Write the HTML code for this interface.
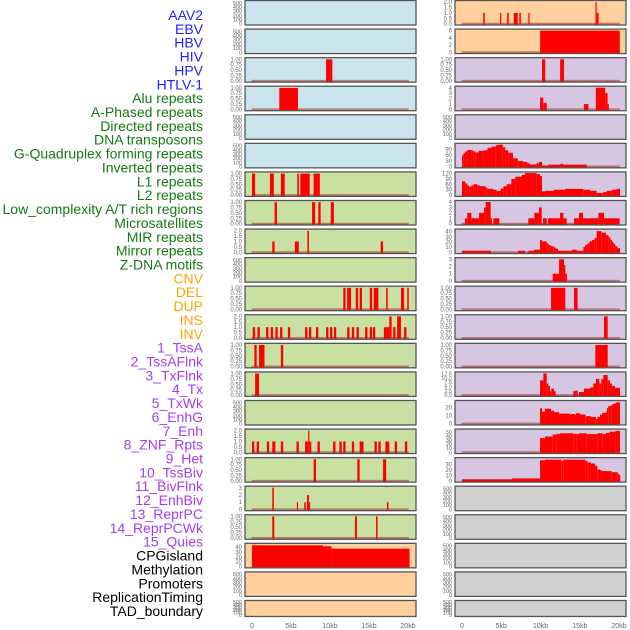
<!DOCTYPE html>
<html><head><meta charset="utf-8"><style>
html,body{margin:0;padding:0;background:#fff;width:630px;height:630px;overflow:hidden}
svg{display:block;font-family:"Liberation Sans",sans-serif}
</style></head><body>
<svg id="chart" width="630" height="630" viewBox="0 0 630 630" xmlns="http://www.w3.org/2000/svg"></svg>
<script>
const featureLabels=["AAV2","EBV","HBV","HIV","HPV","HTLV-1","Alu repeats","A-Phased repeats","Directed repeats","DNA transposons","G-Quadruplex forming repeats","Inverted repeats","L1 repeats","L2 repeats","Low_complexity A/T rich regions","Microsatellites","MIR repeats","Mirror repeats","Z-DNA motifs","CNV","DEL","DUP","INS","INV","1_TssA","2_TssAFlnk","3_TxFlnk","4_Tx","5_TxWk","6_EnhG","7_Enh","8_ZNF_Rpts","9_Het","10_TssBiv","11_BivFlnk","12_EnhBiv","13_ReprPC","14_ReprPCWk","15_Quies","CPGisland","Methylation","Promoters","ReplicationTiming","TAD_boundary"];
const labelGroups=["virus","virus","virus","virus","virus","virus","repeat","repeat","repeat","repeat","repeat","repeat","repeat","repeat","repeat","repeat","repeat","repeat","repeat","sv","sv","sv","sv","sv","state","state","state","state","state","state","state","state","state","state","state","state","state","state","state","other","other","other","other","other"];
const xTickValues=[0,5,10,15,20];
const xTickLabels=["0","5kb","10kb","15kb","20kb"];
const T01=["0.00","0.25","0.50","0.75","1.00"];
const T02=["0.0","0.5","1.0","1.5","2.0"];
const TE=["0","100","200","300","400","500"];
const panelTickLabels=[TE,TE,T01,T01,TE,TE,T01,T01,T02,TE,T01,T02,T01,T01,TE,T02,T01,["0","1","2","3"],T01,["0","10","20","30","40"],TE,TE,
 T02,["0","2","4","6"],T01,["0","1","2","3","4"],TE,["0","30","60","90"],["0","30","60","90","120"],["0","1","2","3","4"],["0","10","20","30","40"],["0","1","2","3"],T01,T01,T01,["0.0","2.5","5.0","7.5","10.0","12.5"],["0","10","20"],["0","10","20","30","40","50"],["0","10","20","30"],TE,TE,TE,TE,TE];
const panelYMax=[530,530,1.03,1.03,530,530,1.03,1.03,2.06,530,1.03,2.06,1.03,1.03,530,2.06,1.03,3.08,1.03,46,530,530,
 2.06,6.15,1.03,4.1,530,116,124,4.1,43,3.1,1.03,1.03,1.03,12.8,27.5,55,41,530,530,530,530,530];
const panelFill=["blue","blue","blue","blue","blue","blue","green","green","green","green","green","green","green","green","green","green","green","green","green","orange","orange","orange",
 "orange","orange","purple","purple","purple","purple","purple","purple","purple","purple","purple","purple","purple","purple","purple","purple","purple","gray","gray","gray","gray","gray"];
const panelBars=[
[],[],
[[9.5,10.3,1]],
[[3.5,5.9,1]],
[],[],
[[0,0.4,1],[2.3,2.8,1],[3.7,4.2,1],[5.8,6.0,1],[6.2,7.4,1],[7.9,8.7,1]],
[[2.9,3.2,1],[7.7,8.1,1],[8.5,8.8,1],[10.1,10.5,1]],
[[2.6,2.9,1],[5.5,6.0,1],[7.1,7.3,2],[16.5,16.8,1]],
[],
[[11.7,12.0,1],[12.2,12.7,1],[13.3,13.6,1],[13.8,14.1,1],[15.1,15.4,1],[15.6,16.2,1],[17.2,17.4,1],[19.1,19.5,1],[19.9,20.1,1]],
[[0.1,0.4,1],[0.7,1.0,1],[1.8,2.1,1],[2.4,2.7,1],[3.0,3.3,1],[3.6,3.9,1],[4.6,4.9,1],[6.8,7.1,1],[7.3,7.6,1],[8.2,8.5,1],[9.5,9.8,1],[10.0,10.3,1],[10.5,10.8,1],[12.2,12.5,1],[12.8,13.1,1],[13.4,13.7,1],[14.5,14.8,1],[15.1,15.4,1],[15.5,15.8,1],[16.9,17.3,1],[17.3,17.6,1],[17.6,17.9,2],[18.1,18.4,1],[18.6,19.1,2],[19.5,19.8,1]],
[[0.3,0.6,1],[0.9,1.6,1],[3.7,4.0,1]],
[[0.4,0.9,1]],
[],
[[0.0,0.3,1],[0.6,0.9,1],[1.9,2.2,1],[2.6,3.0,1],[3.7,4.0,1],[5.7,6.0,1],[6.8,7.2,1],[7.2,7.35,2],[7.35,7.6,1],[8.4,8.7,1],[10.4,10.7,1],[11.2,11.5,1],[11.7,12.0,1],[12.8,13.1,1],[13.8,14.3,1],[15.7,16.0,1],[16.2,16.5,1],[17.1,17.6,1],[18.3,18.6,1],[19.6,19.9,1]],
[[7.9,8.2,1],[13.5,13.8,1],[16.8,17.2,1]],
[[2.6,2.8,3],[5.75,5.9,1],[6.7,6.9,1],[7.05,7.3,2],[7.3,7.45,1],[17.3,17.5,1]],
[[2.6,2.85,1],[13.2,13.45,1],[15.9,16.1,1]],
[[0,9.1,44],[9.1,10.2,42],[10.2,20.2,37]],
[],[],
[[2.7,2.9,1],[4.85,5.0,1],[5.75,5.95,1],[6.6,7.1,1],[7.3,7.5,1],[8.45,8.6,1],[17.0,17.15,2],[17.15,17.4,1]],
[[9.95,20.1,6]],
[[10.2,10.6,1],[12.5,13.0,1]],
[[9.95,10.35,2.2],[10.35,10.8,1.2],[15.55,16.1,1],[17.05,18.25,4],[18.25,18.55,3],[18.55,18.7,1]],
[],
[[0,0.17,58],[0.17,0.4,69],[0.4,0.65,79],[0.65,1.2,87],[1.2,1.45,85],[1.45,1.7,79],[1.7,2.1,74],[2.1,2.75,82],[2.75,3.25,85],[3.25,3.75,98],[3.75,4.25,104],[4.25,4.4,108],[4.4,5.2,114],[5.2,5.5,101],[5.5,5.9,85],[5.9,6.5,72],[6.5,7.1,43],[7.1,7.8,29],[7.8,8.3,24],[8.3,8.6,18],[8.6,9.5,11],[9.5,9.8,18],[9.8,10.2,24],[10.2,11.0,5],[11.0,12.5,10],[12.5,12.9,14],[12.9,15.9,10]],
[[0,0.42,77],[0.42,0.68,66],[0.68,0.93,54],[0.93,1.19,47],[1.19,1.44,54],[1.44,1.95,61],[1.95,2.29,54],[2.29,2.97,50],[2.97,3.23,43],[3.23,3.99,35],[3.99,4.42,30],[4.42,4.93,23],[4.93,5.27,37],[5.27,5.69,50],[5.69,6.28,61],[6.28,6.79,90],[6.79,7.64,103],[7.64,8.03,113],[8.03,9.51,123],[9.51,9.94,117],[9.94,10.19,106],[10.19,10.57,21],[10.57,11.72,24],[11.72,13.12,30],[13.12,15.46,35],[15.46,16.31,30],[16.31,17.16,24],[17.16,18.0,12],[18.0,18.43,17],[18.43,19.07,24],[19.07,19.7,30],[19.7,20.13,35]],
[[0.38,0.68,1],[0.68,1.19,2],[1.19,2.17,1],[2.17,2.8,2],[2.8,3.01,3],[3.01,3.65,4],[3.65,3.82,1],[3.99,4.76,1],[8.45,9.21,1],[9.21,9.81,2],[9.81,10.15,3],[10.32,10.79,1],[10.96,12.48,1],[12.48,12.91,2],[12.91,13.33,1],[14.27,14.9,1],[14.9,15.41,2],[15.41,15.67,1],[15.67,17.37,1],[17.37,18.09,2],[18.09,20.08,1]],
[[0,3.69,3],[7.13,8.03,3],[8.45,9.17,3],[9.17,9.94,5],[9.94,10.19,24],[10.19,10.79,21],[10.79,11.04,17],[11.04,11.3,14],[11.3,11.63,12],[11.63,11.89,10],[11.89,12.23,7],[12.23,14.01,3],[14.01,14.61,5],[14.61,15.46,3],[15.46,15.67,10],[15.67,15.97,14],[15.97,16.22,17],[16.22,16.56,21],[16.56,16.9,24],[16.9,17.16,28],[17.16,17.75,41],[17.75,18.34,38],[18.34,18.68,33],[18.68,18.9,29],[18.9,19.11,24],[19.11,19.32,20],[19.32,19.53,16],[19.53,19.79,12],[19.79,20.13,8]],
[[11.55,12.36,1],[12.36,12.99,3],[12.99,13.16,2.2],[13.16,13.38,1]],
[[11.34,13.16,1],[14.27,14.73,1]],
[[18.09,18.56,1]],
[[16.99,18.56,1]],
[[9.94,10.36,8.5],[10.36,10.79,12.5],[10.79,11.0,6.7],[11.0,11.21,5.3],[11.21,11.38,2.3],[11.38,11.72,3.7],[11.72,11.93,2.3],[14.18,14.44,2.3],[14.44,14.73,2.6],[14.9,15.54,1.8],[15.54,16.31,3.7],[16.31,16.73,4.4],[16.73,17.07,6.7],[17.07,17.49,9.3],[17.49,17.75,6.7],[17.75,18.0,9.3],[18.0,18.56,11.6],[18.56,18.85,8.5],[18.85,19.11,6.7],[19.11,19.49,5.3],[19.49,20.13,4.2]],
[[9.94,10.19,19],[10.19,10.57,15],[10.57,11.34,18.5],[11.34,11.72,16],[11.72,12.36,14.3],[12.36,13.76,12.5],[13.76,13.89,11.3],[13.89,14.39,12],[14.39,14.52,11],[14.52,15.03,13],[15.03,15.75,11.3],[15.75,15.88,8.7],[15.88,16.43,9.4],[16.43,17.07,8.3],[17.07,17.24,5.7],[17.24,17.58,8.3],[17.58,17.83,11.3],[17.83,18.34,13.2],[18.34,18.47,15],[18.47,18.64,19.6],[18.64,19.07,22],[19.07,19.36,24],[19.36,19.62,25],[19.62,20.13,26.4]],
[[9.94,10.57,35],[10.57,11.55,39],[11.55,12.06,44],[12.06,12.48,45.5],[12.48,14.18,47],[14.18,14.61,45.5],[14.61,14.9,45],[14.9,15.88,47],[15.88,17.28,45],[17.28,17.92,47],[17.92,18.34,45],[18.34,18.85,48],[18.85,19.53,51],[19.53,20.13,53]],
[[0,6.37,2.8],[6.37,9.94,4.4],[9.94,10.57,38],[10.57,12.7,39],[12.7,12.91,37],[12.91,15.71,39],[15.71,15.97,37],[15.97,16.43,34],[16.43,16.94,32],[16.94,17.24,28],[17.24,17.58,21],[17.58,17.83,19.5],[17.83,19.07,18],[19.07,19.83,16],[19.83,20.0,13],[20.0,20.13,11]],
[],[],[],[],[]
];

const NS="http://www.w3.org/2000/svg";
const svg=document.getElementById('chart');
const fills={blue:"#c9e4ec",green:"#c8e0a2",orange:"#ffd09e",purple:"#d6c6e2",gray:"#d0d0d0"};
const labelColors={virus:"#1f1fff",repeat:"#137a13",sv:"#ffa500",state:"#a43ef0",other:"#000000"};
function mk(tag,attrs){const e=document.createElementNS(NS,tag);for(const k in attrs)e.setAttribute(k,attrs[k]);return e;}

featureLabels.forEach((t,i)=>{
  const e=mk('text',{x:203,y:(15+i*13.86+5).toFixed(1),'text-anchor':'end','font-size':'14',fill:labelColors[labelGroups[i]]});
  
  
  e.textContent=t;svg.appendChild(e);
});

function xScale(col,kb){return col===0?252+kb*7.8:462+kb*7.85;}

for(let p=0;p<44;p++){
  const col=p<22?0:1,row=p%22;
  const top=row*28.57+0.5,h=row===21?16:24.5;
  const fx=col===0?245:455,fw=171;
  const y0=top+h-1.3,yt=top+1;
  const ys=v=>y0-v/panelYMax[p]*(y0-yt);
  const g=mk('g',{});
  
  
  const bg=mk('rect',{x:fx,y:top,width:fw,height:h,fill:fills[panelFill[p]],stroke:'none'});
  
  
  g.appendChild(bg);
  const bars=panelBars[p];
  if(bars.length){
    const bl=mk('line',{x1:xScale(col,-0.05),x2:xScale(col,20.1),y1:y0,y2:y0,stroke:'rgba(170,40,40,0.55)','stroke-width':2});
    
    
    g.appendChild(bl);
  }
  bars.forEach(b=>{
    const x1=xScale(col,b[0]),x2=xScale(col,b[1]),yy=Math.max(ys(b[2]),top+0.5);
    const r=mk('rect',{x:x1.toFixed(2),y:yy.toFixed(2),width:Math.max(x2-x1,1.2).toFixed(2),height:(y0+0.8-yy).toFixed(2),fill:'#ff0000'});
    
    
    g.appendChild(r);
  });
  const fr=mk('rect',{x:fx,y:top,width:fw,height:h,fill:'none',stroke:'#555','stroke-width':1.3});
  
  
  g.appendChild(fr);
  const tl=panelTickLabels[p],n=tl.length;
  const tickMax=parseFloat(tl[n-1]);
  tl.forEach((s,i)=>{
    const v=parseFloat(s);
    const t=mk('text',{x:fx-3,y:(ys(v)+2).toFixed(1),'text-anchor':'end','font-size':n>5?'5.5':'6',fill:'#666'});
    
    
    t.textContent=s;g.appendChild(t);
  });
  svg.appendChild(g);
}
[0,1].forEach(col=>{
  xTickValues.forEach((v,i)=>{
    const t=mk('text',{x:xScale(col,v).toFixed(1),y:628,'text-anchor':'middle','font-size':'7',fill:'#666'});
    
    
    t.textContent=xTickLabels[i];svg.appendChild(t);
  });
});
</script>
</body></html>
